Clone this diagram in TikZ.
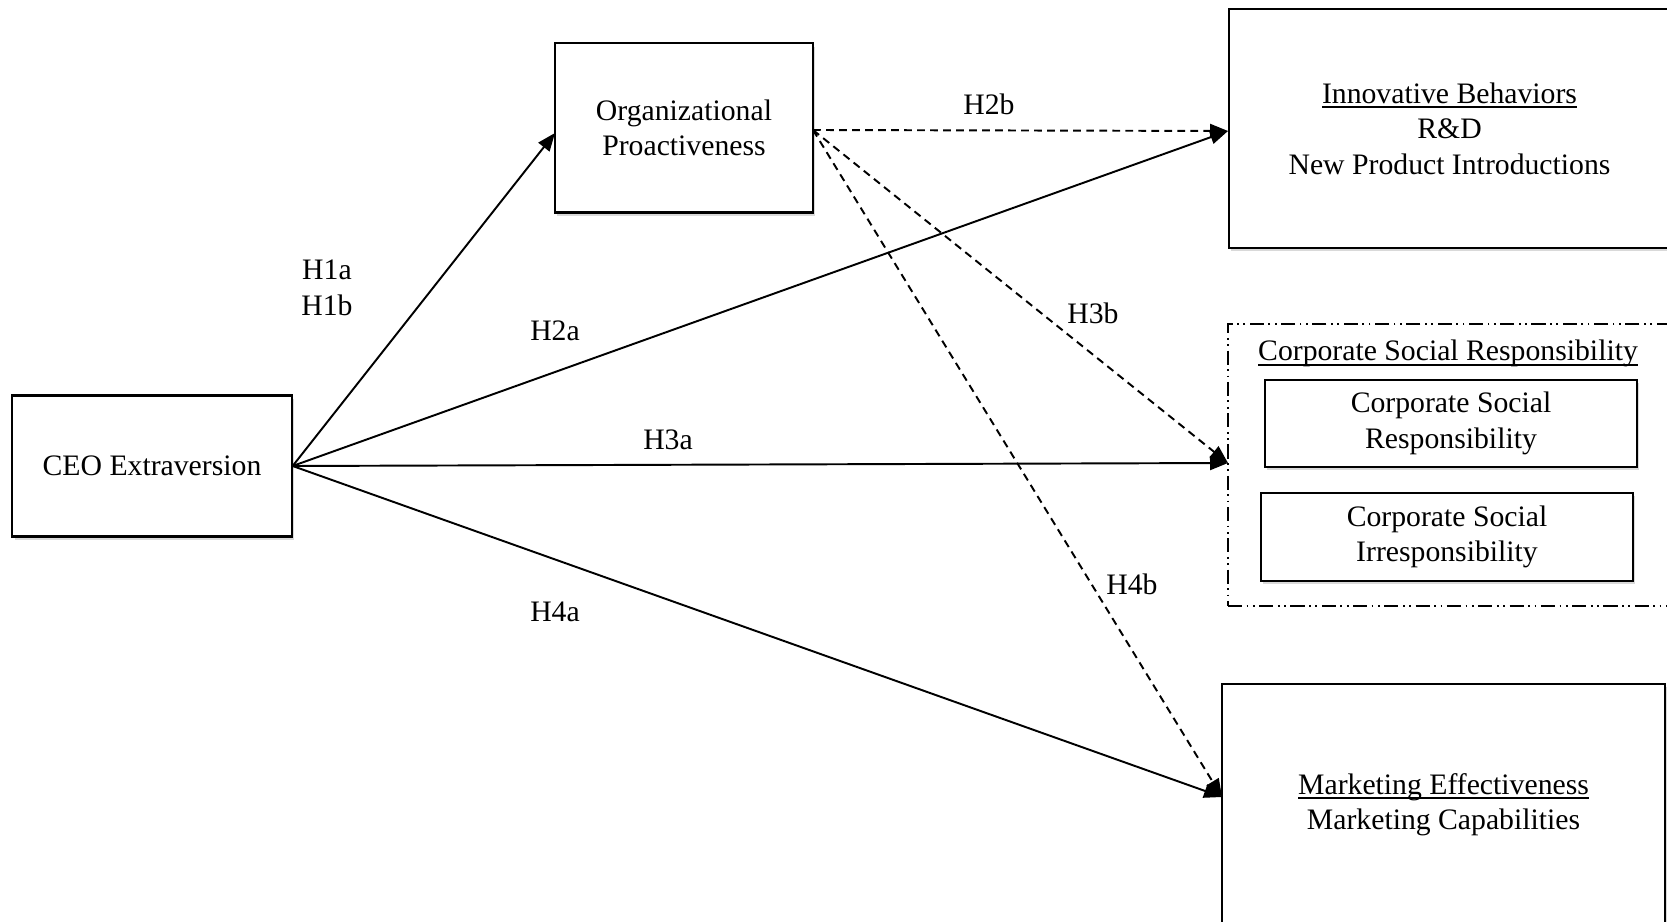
\documentclass[tikz,border=0pt]{standalone}
\usepackage{fontspec}
\setmainfont{Liberation Serif}
\usetikzlibrary{positioning,arrows.meta,shadows}

% underline that sits close to the baseline
\newcommand{\uln}[1]{\setbox0=\hbox{#1}\rlap{\rule[-0.16em]{\wd0}{0.05em}}\box0}

\tikzset{
  box/.style={draw, line width=0.6pt, fill=white, align=center, inner sep=2pt,
    drop shadow={shadow xshift=0.6pt, shadow yshift=-0.9pt, opacity=0.3}},
  group/.style={draw, line width=0.6pt,
    dash pattern=on 4pt off 1.3pt on 0.5pt off 1.3pt on 0.5pt off 1.3pt},
  hyp/.style={inner sep=0pt, align=center},
  effect/.style={line width=0.55pt, -{Triangle[length=0.18cm,width=0.14cm]}},
  mediated/.style={effect, dash pattern=on 2.2pt off 1.5pt},
}

\begin{document}
\begin{tikzpicture}[x=0.01cm, y=-0.01cm, font=\fontsize{8.45}{10.1}\selectfont]

  \useasboundingbox (0,0) rectangle (1667,922);

  \node[box, minimum width=2.79cm, minimum height=1.41cm] (ceo) at (152,466) {CEO Extraversion};
  \node[box, minimum width=2.58cm, minimum height=1.69cm] (org) at (684,128) {Organizational\\Proactiveness};

  \node[box, minimum width=4.41cm, minimum height=2.39cm] (innov) at (1449.5,128.5)
    {\uln{Innovative Behaviors}\\R\&D\\New Product Introductions};

  \node[group, minimum width=4.4cm, minimum height=2.82cm] (csr) at (1448,465) {};
  \node[anchor=base, inner sep=0pt] (csrtitle) at (1448,361) {\uln{Corporate Social Responsibility}};
  \node[box, minimum width=3.72cm, minimum height=0.87cm] (csr1) at (1451,423.5) {Corporate Social\\Responsibility};
  \node[box, minimum width=3.72cm, minimum height=0.88cm] (csi) at (1447,537) {Corporate Social\\Irresponsibility};

  \node[box, minimum width=4.43cm, minimum height=2.41cm] (mkt) at (1443.5,804.5)
    {\uln{Marketing Effectiveness}\\Marketing Capabilities};

  % where the arrows meet the boxes
  \coordinate (orgin) at (555,133);
  \coordinate (orgout) at (813,130);
  \coordinate (innovin) at (1228,131);
  \coordinate (csrin) at (1228,463);
  \coordinate (mktin) at (1222,797);

  \path[effect] (ceo.east) edge (orgin);
  \path[effect] (ceo.east) edge (innovin);
  \path[effect] (ceo.east) edge (csrin);
  \path[effect] (ceo.east) edge (mktin);

  \path[mediated] (orgout) edge (innovin);
  \path[mediated] (orgout) edge (csrin);
  \path[mediated] (orgout) edge (mktin);

  \node[hyp] (h1) at (327,288) {H1a\\H1b};
  \node[hyp] (h2a) at (555,331) {H2a};
  \node[hyp] (h2b) at (989,104) {H2b};
  \node[hyp] (h3a) at (668,440) {H3a};
  \node[hyp] (h3b) at (1093,313) {H3b};
  \node[hyp] (h4a) at (555,612) {H4a};
  \node[hyp] (h4b) at (1132,584) {H4b};

\end{tikzpicture}
\end{document}
